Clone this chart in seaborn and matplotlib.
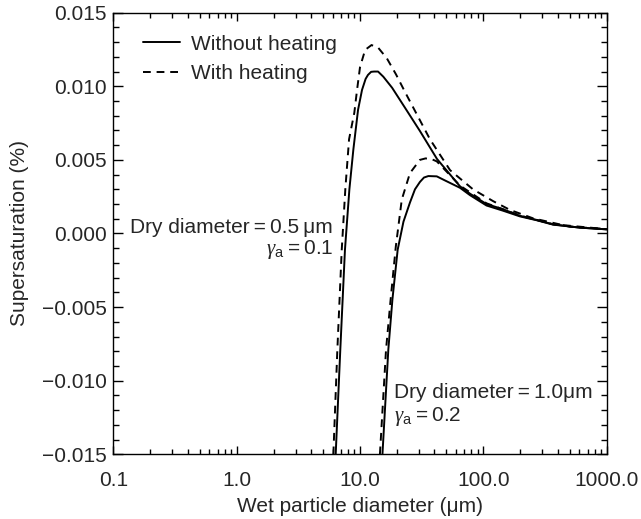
import numpy as np
import pandas as pd
import matplotlib
matplotlib.use("Agg")
import matplotlib.pyplot as plt
import seaborn as sns
from matplotlib.ticker import FixedLocator, NullFormatter, LogLocator, MultipleLocator, FixedFormatter
from matplotlib.lines import Line2D

# ---- data ----
# Dry diameter 0.5 um, without heating
d05_nh_x = [6.35, 6.92, 7.55, 8.2, 8.83, 9.64, 10.38, 11.1, 11.6, 12.3, 13.0, 14.0, 15.45, 18.2, 23.2, 30.6, 42.1, 64.7, 78, 106, 144, 198, 270, 367, 600, 1000]
d05_nh_y = [-0.0150, -0.0079, -0.0011, 0.0030, 0.0057, 0.0084, 0.00975, 0.0105, 0.01077, 0.01098, 0.0110, 0.0110, 0.01065, 0.0099, 0.00853, 0.00696, 0.00506, 0.0032, 0.0027, 0.0020, 0.00165, 0.0012, 0.00092, 0.00062, 0.0004, 0.00028]
# Dry diameter 0.5 um, with heating
d05_h_x = [6.08, 6.55, 7.11, 7.6, 8.15, 8.99, 9.46, 10.0, 11.0, 12.4, 14.1, 16.5, 19.6, 23.2, 36.9, 53.7, 82.4, 119.8, 164.4, 252.7, 504, 1000]
d05_h_y = [-0.0150, -0.0079, -0.0011, 0.0030, 0.0064, 0.0082, 0.00975, 0.0113, 0.01247, 0.0128, 0.0126, 0.0119, 0.0108, 0.0096, 0.0064, 0.0043, 0.0030, 0.0022, 0.0016, 0.00103, 0.00046, 0.0003]
# Dry diameter 1.0 um, without heating
d10_nh_x = [15.2, 16.96, 18.3, 20.2, 22.5, 25.4, 27.9, 30.6, 33.0, 35.8, 41.9, 48.9, 64.7, 78, 106, 144, 198, 270, 367, 600, 1000]
d10_nh_y = [-0.0150, -0.0079, -0.0045, -0.0011, 0.0008, 0.0021, 0.0030, 0.0035, 0.0038, 0.0039, 0.00388, 0.0036, 0.0031, 0.0026, 0.0019, 0.00155, 0.00116, 0.0009, 0.0006, 0.0004, 0.00028]
# Dry diameter 1.0 um, with heating
d10_h_x = [14.5, 16.25, 17.7, 19.5, 21.8, 25.4, 30.6, 34.0, 38.0, 41.9, 64.7, 106, 198, 367, 1000]
d10_h_y = [-0.0150, -0.0079, -0.0045, -0.0009, 0.0023, 0.0041, 0.0050, 0.0051, 0.00505, 0.0049, 0.00325, 0.00205, 0.00122, 0.00063, 0.00029]

x_ticks = [0.1, 1.0, 10.0, 100.0, 1000.0]
x_tick_labels = ["0.1", "1.0", "10.0", "100.0", "1000.0"]
y_ticks = [-0.015, -0.010, -0.005, 0.000, 0.005, 0.010, 0.015]
y_tick_labels = ["\u22120.015", "\u22120.010", "\u22120.005", "0.000", "0.005", "0.010", "0.015"]

sns.set_style("ticks")
plt.rcParams['font.family'] = ['Liberation Sans', 'DejaVu Sans']
plt.rcParams['mathtext.fontset'] = 'custom'
plt.rcParams['mathtext.rm'] = 'Liberation Sans'
plt.rcParams['mathtext.it'] = 'Liberation Serif:italic'
plt.rcParams['mathtext.sf'] = 'Liberation Sans'

FS = 15
fig = plt.figure(figsize=(6.41, 5.19), dpi=100)
ax = fig.add_axes([0.1768, 0.1247, 0.7697, 0.8509])

DASH = (0, (4, 3))
curves = [
    (d05_nh_x, d05_nh_y, "-"),
    (d05_h_x, d05_h_y, DASH),
    (d10_nh_x, d10_nh_y, "-"),
    (d10_h_x, d10_h_y, DASH),
]
for cx, cy, ls in curves:
    df = pd.DataFrame({"diameter": cx, "ss": cy})
    sns.lineplot(data=df, x="diameter", y="ss", ax=ax, color="black", lw=1.4,
                 linestyle=ls, sort=False, estimator=None, legend=False)

ax.set_xscale("log")
ax.set_xlim(0.1, 1000)
ax.set_ylim(-0.015, 0.015)

ax.xaxis.set_major_locator(FixedLocator(x_ticks))
ax.xaxis.set_major_formatter(FixedFormatter(x_tick_labels))
ax.xaxis.set_minor_locator(LogLocator(base=10, subs=np.arange(2, 10)))
ax.xaxis.set_minor_formatter(NullFormatter())
ax.yaxis.set_major_locator(FixedLocator(y_ticks))
ax.yaxis.set_major_formatter(FixedFormatter(y_tick_labels))
ax.yaxis.set_minor_locator(MultipleLocator(0.001))

ax.tick_params(which="both", direction="in", top=True, right=True, labelsize=FS, color="black")
ax.tick_params(axis="x", which="major", length=6, width=1.0, pad=12)
ax.tick_params(axis="x", which="minor", length=3.5, width=1.0)
ax.tick_params(axis="y", which="major", length=7, width=1.0, pad=5)
ax.tick_params(axis="y", which="minor", length=4, width=1.0)
for s in ax.spines.values():
    s.set_linewidth(1.0)
    s.set_color("black")

ax.set_xlabel("Wet particle diameter (\u03bcm)", fontsize=FS, labelpad=5)
ax.set_ylabel("Supersaturation (%)", fontsize=FS, labelpad=9)

handles = [Line2D([], [], color="black", lw=1.4, linestyle="-"),
           Line2D([], [], color="black", lw=1.4, linestyle=DASH)]
ax.legend(handles, ["Without heating", "With heating"], loc="upper left",
          bbox_to_anchor=(0.06, 0.950), frameon=False, fontsize=FS,
          borderpad=0, borderaxespad=0, handlelength=1.8, handletextpad=0.5,
          labelspacing=0.5)

ax.text(6.04, 0.0, "Dry diameter\u2009=\u20090.5\u2009\u03bcm", ha="right", va="baseline", fontsize=FS)
ax.text(6.04, -0.00142, r"$\gamma_{\mathrm{a}}$" + "\u2009=\u20090.1", ha="right", va="baseline", fontsize=FS)
ax.text(18.9, -0.01116, "Dry diameter\u2009=\u20091.0\u03bcm", ha="left", va="baseline", fontsize=FS)
ax.text(18.9, -0.01275, r"$\gamma_{\mathrm{a}}$" + "\u2009=\u20090.2", ha="left", va="baseline", fontsize=FS)

fig.savefig("out.png", dpi=100)
